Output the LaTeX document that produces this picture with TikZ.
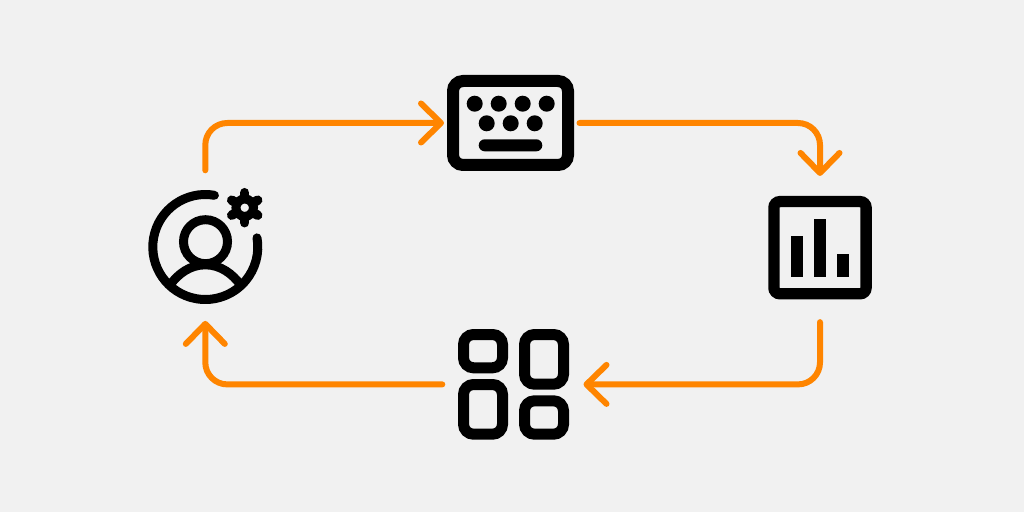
\documentclass[tikz,border=0pt]{standalone}
\usepackage{tikz}
\usepackage{xcolor}
\usetikzlibrary{arrows.meta}
\definecolor{panelgray}{HTML}{F1F1F1}
\definecolor{floworange}{HTML}{FF8500}
\tikzstyle{flow} = [floworange, line width=6pt, line cap=round, line join=round, rounded corners=22pt]
\tikzstyle{iconline} = [black, line width=9pt, line cap=round]
\tikzstyle{keyframe} = [rectangle, draw, line width=12pt, rounded corners=10pt, inner sep=0pt, minimum width=115pt, minimum height=84pt]
\tikzstyle{keydot} = [circle, fill, inner sep=0pt, minimum size=16pt]
\tikzstyle{chartframe} = [rectangle, draw, line width=11.3pt, rounded corners=6pt, inner sep=0pt, minimum size=92.2pt]
\tikzstyle{chartbar} = [rectangle, fill, inner sep=0pt, anchor=south, minimum width=11.4pt]
\tikzstyle{tile} = [rectangle, draw, line width=11pt, rounded corners=10pt, inner sep=0pt, minimum width=39pt]

\begin{document}
\begin{tikzpicture}[x=1pt,y=1pt,>={Straight Barb[length=20pt,width=39pt,round]},node distance=24pt]
  \fill[panelgray] (0,0) rectangle (1024,512);
  \useasboundingbox (0,0) rectangle (1024,512);

  % user with gear
  \node[circle, inner sep=0pt, minimum size=114pt] (user) at (205.3,265) {};
  \draw[iconline] (user.center) ++(80:52.5) arc[start angle=80, end angle=370, radius=52.5];
  \node[circle, draw, line width=9pt, inner sep=0pt, minimum size=44pt] (head) at (205.5,270.3) {};
  \draw[iconline, line cap=butt] (170,227) .. controls (178,238) and (190,247.2) .. (205.3,247.2)
    .. controls (220.6,247.2) and (232.6,238) .. (240.6,227);
  \coordinate (gear_c) at (244.7,304.3);
  \draw[black, line width=9.5pt, line cap=round] ([shift={(90:15)}]gear_c) -- ([shift={(270:15)}]gear_c);
  \draw[black, line width=9.5pt, line cap=round] ([shift={(30:15)}]gear_c) -- ([shift={(210:15)}]gear_c);
  \draw[black, line width=9.5pt, line cap=round] ([shift={(150:15)}]gear_c) -- ([shift={(330:15)}]gear_c);
  \node[circle, draw=black, fill=panelgray, line width=9pt, inner sep=0pt, minimum size=17.5pt] (gear) at (gear_c) {};

  % keyboard
  \node[keyframe] (keyboard) at (510.5,389) {};
  \node[keydot] (key_a) at (474.7,408.3) {};
  \node[keydot] (key_b) [right of=key_a] {};
  \node[keydot] (key_c) [right of=key_b] {};
  \node[keydot] (key_d) [right of=key_c] {};
  \node[keydot] (key_e) at (486.7,388.7) {};
  \node[keydot] (key_f) [right of=key_e] {};
  \node[keydot] (key_g) [right of=key_f] {};
  \node[rectangle, fill, rounded corners=6pt, inner sep=0pt, minimum width=63.6pt, minimum height=12pt] (space) at (510.5,366.7) {};

  % chart
  \node[chartframe] (chart) at (820,264.3) {};
  \node[chartbar, minimum height=40.4pt] (bar_a) at (797,235.3) {};
  \node[chartbar, minimum height=57.4pt] (bar_b) at (819.9,235.3) {};
  \node[chartbar, minimum height=23pt] (bar_c) at (843,235.3) {};

  % app tiles
  \node[inner sep=0pt, minimum width=111pt, minimum height=110.7pt] (apps) at (513.5,127.6) {};
  \node[tile, minimum height=33.3pt] (tile_a) at (483,160.85) {};
  \node[tile, minimum height=49.7pt] (tile_b) at (483,102.65) {};
  \node[tile, minimum height=49.7pt] (tile_c) at (544,152.65) {};
  \node[tile, minimum height=33.4pt] (tile_d) at (544,94.5) {};

  % connectors
  \draw[flow, ->, shorten <=19.5pt, shorten >=3pt] (user.north) |- (keyboard.west);
  \draw[flow, ->, shorten <=5.5pt, shorten >=20pt] (keyboard.east) -| (chart.north);
  \draw[flow, ->, shorten <=22.7pt, shorten >=14.3pt] (chart.south) |- (apps.east);
  \draw[flow, ->, shorten <=15.5pt, shorten >=16.7pt] (apps.west) -| (user.south);
\end{tikzpicture}
\end{document}
